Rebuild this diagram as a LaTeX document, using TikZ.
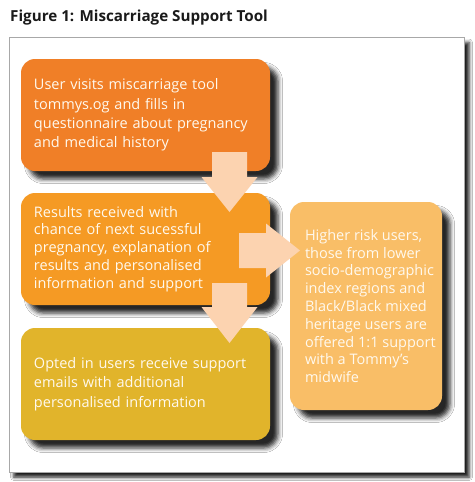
\documentclass[tikz,border=0pt]{standalone}
\usepackage{fontspec}
\setmainfont{Open Sans}
\usetikzlibrary{shadows.blur,calc}
\definecolor{cone}{HTML}{F07F27}
\definecolor{ctwo}{HTML}{F59A24}
\definecolor{cthree}{HTML}{E1B42B}
\definecolor{cfour}{HTML}{F9BE67}
\definecolor{carrow}{HTML}{FCD3B0}
\definecolor{ctxt}{HTML}{FFF9EE}
\definecolor{cframe}{HTML}{A8A8A8}
\definecolor{ctitle}{HTML}{1A1A1A}
\begin{document}
\begin{tikzpicture}[x=1pt,y=-1pt,
  box/.style={rounded corners=14pt, text=ctxt, align=left, inner sep=0pt,
    blur shadow={shadow xshift=8pt, shadow yshift=-8pt, shadow blur radius=4.5pt, shadow opacity=85}},
  wide/.style={minimum width=249pt, minimum height=112pt, text width=223pt},
  loose/.style={font=\fontsize{14.5}{19.4}\selectfont},
  tight/.style={font=\fontsize{14.5}{17.8}\selectfont},
  boxtext/.style={text=ctxt, align=left, inner sep=0pt},
  blockarrow/.style={fill=carrow, draw=none},
  frame/.style={fill=white, draw=cframe, line width=0.8pt,
    blur shadow={shadow xshift=5pt, shadow yshift=-5pt, shadow blur radius=3.5pt, shadow opacity=90}}
]
\useasboundingbox (0,0) rectangle (474,482);
\fill[white] (0,0) rectangle (474,482);
\node[anchor=base west, inner sep=0pt, text=ctitle, font=\fontsize{15.2}{18}\selectfont\bfseries] (title) at (10,21) {Figure 1: Miscarriage Support Tool};
\node[frame, minimum width=455pt, minimum height=434.5pt, inner sep=0pt] (frame) at (236.5,254.75) {};
\node[box, wide, loose, fill=cone] (b1) at (145.5,115) {User visits miscarriage tool\\tommys.og and fills in\\questionnaire about pregnancy\\and medical history};
\node[box, wide, tight, fill=ctwo] (b2) at (145.5,249) {Results received with\\chance of next sucessful\\pregnancy, explanation of\\results and personalised\\information and support};
\node[box, wide, loose, fill=cthree] (b3) at (145.5,384) {Opted in users receive support\\emails with additional\\personalised information};
\node[box, fill=cfour, minimum width=152pt, minimum height=208pt] (b4) at (366,306) {};
\node[boxtext, tight, anchor=west] (t4) at ($(b4.west)+(15,0)$) {Higher risk users,\\those from lower\\socio-demographic\\index regions and\\Black/Black mixed\\heritage users are\\offered 1:1 support\\with a Tommy's\\midwife};
% arrow b1 -> b2
\coordinate (a1) at (229.5,152);
\fill[blockarrow] ($(a1)+(-17.5,0)$) -- ($(a1)+(17.5,0)$) -- ($(a1)+(17.5,25)$) -- ($(a1)+(28,25)$) -- ($(a1)+(0,60)$) -- ($(a1)+(-28,25)$) -- ($(a1)+(-17.5,25)$) -- cycle;
% arrow b2 -> b3
\coordinate (a3) at (229.5,283);
\fill[blockarrow] ($(a3)+(-17.5,0)$) -- ($(a3)+(17.5,0)$) -- ($(a3)+(17.5,24)$) -- ($(a3)+(28,24)$) -- ($(a3)+(0,60)$) -- ($(a3)+(-28,24)$) -- ($(a3)+(-17.5,24)$) -- cycle;
% arrow b2 -> b4
\coordinate (a2) at (239,250.5);
\fill[blockarrow] ($(a2)+(0,-17.5)$) -- ($(a2)+(27,-17.5)$) -- ($(a2)+(27,-27)$) -- ($(a2)+(61,0)$) -- ($(a2)+(27,27)$) -- ($(a2)+(27,17.5)$) -- ($(a2)+(0,17.5)$) -- cycle;
\end{tikzpicture}
\end{document}
